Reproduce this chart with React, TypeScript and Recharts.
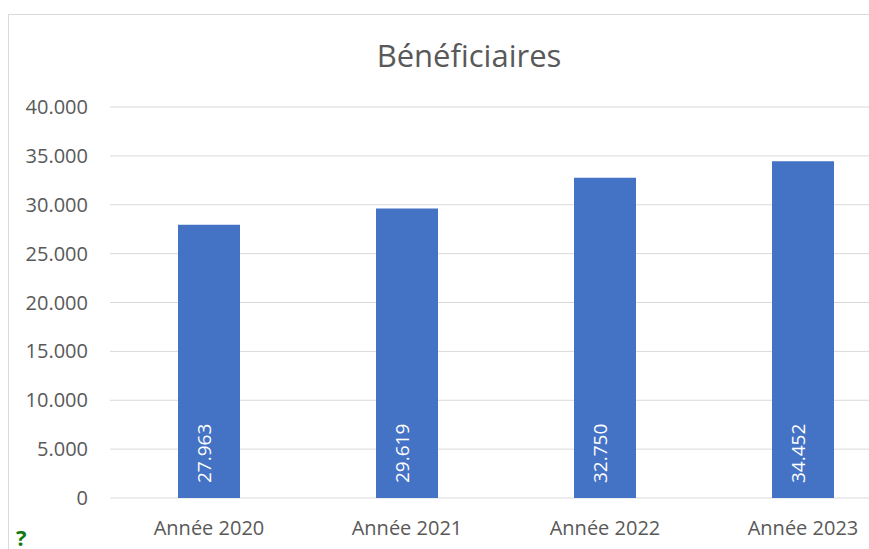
import React from 'react';
import { BarChart, Bar, XAxis, YAxis, CartesianGrid, LabelList } from 'recharts';

const years = ['Année 2020', 'Année 2021', 'Année 2022', 'Année 2023'];
const beneficiaires = [27963, 29619, 32750, 34452];
const yTicks = [0, 5000, 10000, 15000, 20000, 25000, 30000, 35000, 40000];

const data = years.map((name, i) => ({ name, value: beneficiaires[i] }));

const TEXT = '#595959';
const GRID = '#d9d9d9';
const BLUE = '#4472c4';
const FONT = '"Open Sans", "Noto Sans", sans-serif';

// 27963 -> "27.963"
const fmt = (v: number) => String(v).replace(/\B(?=(\d{3})+(?!\d))/g, '.');

const InsideBaseLabel = (props: any) => {
  const { x, y, width, height, value } = props;
  const cx = x + width / 2 - 5;
  const cy = y + height - 15;
  return (
    <text
      x={cx}
      y={cy}
      transform={`rotate(-90, ${cx}, ${cy})`}
      textAnchor="start"
      dominantBaseline="central"
      fill="#ffffff"
      fontSize={19}
      fontFamily={FONT}
    >
      {fmt(value)}
    </text>
  );
};

const App: React.FC = () => {
  return (
    <div style={{ position: 'fixed', left: 0, top: 0, width: 869, height: 549, overflow: 'hidden', background: '#fff', fontFamily: FONT }}>
      <div
        style={{
          position: 'absolute',
          left: 8,
          top: 14,
          width: 920,
          height: 560,
          borderLeft: `1px solid ${GRID}`,
          borderTop: `1px solid ${GRID}`,
        }}
      >
        <div
          style={{
            position: 'absolute',
            left: 0,
            top: 25,
            width: 920,
            textAlign: 'center',
            fontSize: 31,
            lineHeight: '30px',
            color: TEXT,
          }}
        >
          Bénéficiaires
        </div>
        <BarChart
          width={920}
          height={560}
          data={data}
          margin={{ top: 92, right: 27, left: 0, bottom: 37 }}
        >
          <CartesianGrid vertical={false} stroke={GRID} strokeWidth={1} />
          <XAxis
            dataKey="name"
            axisLine={false}
            tickLine={false}
            height={40}
            tickMargin={17}
            tick={{ fill: TEXT, fontSize: 20, fontFamily: FONT }}
          />
          <YAxis
            width={101}
            domain={[0, 40000]}
            ticks={yTicks}
            axisLine={false}
            tickLine={false}
            tickMargin={16}
            tickFormatter={fmt}
            tick={{ fill: TEXT, fontSize: 20, fontFamily: FONT }}
          />
          <Bar dataKey="value" fill={BLUE} barSize={62} isAnimationActive={false}>
            <LabelList dataKey="value" content={InsideBaseLabel} />
          </Bar>
        </BarChart>
      </div>
      <span
        style={{
          position: 'absolute',
          left: 16,
          top: 527,
          fontSize: 22,
          lineHeight: '20px',
          fontWeight: 700,
          color: '#0e7a0e',
        }}
      >
        ?
      </span>
    </div>
  );
};

export default App;
